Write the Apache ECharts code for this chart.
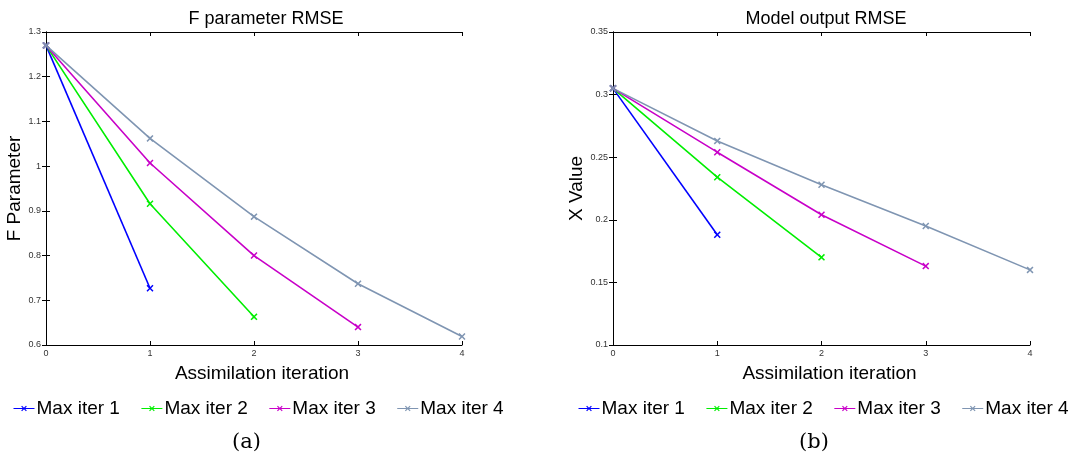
<!DOCTYPE html>
<html>
<head>
<meta charset="utf-8">
<script src="https://cdn.jsdelivr.net/npm/echarts@6/dist/echarts.min.js"></script>
<style>
  html, body { margin: 0; padding: 0; background: #fff; }
  #chart { width: 1074px; height: 463px; }
</style>
</head>
<body>
<div id="chart"></div>
<script>
// values
var iterations = [0, 1, 2, 3, 4];
var seriesNames = ['Max iter 1', 'Max iter 2', 'Max iter 3', 'Max iter 4'];
var colors = ['#0000ff', '#00ee00', '#c800c8', '#7f95b2'];

// (a) F parameter RMSE
var fIter1 = [1.27, 0.727];
var fIter2 = [1.27, 0.916, 0.663];
var fIter3 = [1.27, 1.007, 0.800, 0.640];
var fIter4 = [1.27, 1.062, 0.887, 0.737, 0.619];

// (b) model output RMSE
var xIter1 = [0.305, 0.188];
var xIter2 = [0.305, 0.234, 0.170];
var xIter3 = [0.305, 0.254, 0.204, 0.163];
var xIter4 = [0.305, 0.263, 0.228, 0.195, 0.160];

var fData = [fIter1, fIter2, fIter3, fIter4];
var xData = [xIter1, xIter2, xIter3, xIter4];

var cross = 'path://M0,1.5L1.5,0L5,3.5L8.5,0L10,1.5L6.5,5L10,8.5L8.5,10L5,6.5L1.5,10L0,8.5L3.5,5Z';

function pairs(vals) {
  var out = [];
  for (var i = 0; i < vals.length; i++) out.push([iterations[i], vals[i]]);
  return out;
}

var tickLabel = { fontSize: 9, color: '#333', fontFamily: 'Liberation Sans' };
var nameFont = { fontSize: 19, color: '#000', fontFamily: 'Liberation Sans' };

function xAxes(idx) {
  return [
    {
      type: 'value', gridIndex: idx, min: 0, max: 4, interval: 1,
      name: 'Assimilation iteration', nameLocation: 'middle', nameGap: 19,
      nameTextStyle: Object.assign({ padding: [0, 0, 0, 16] }, nameFont),
      axisLine: { show: true, lineStyle: { color: '#000', width: 1 } },
      axisTick: { inside: true, length: 4, lineStyle: { color: '#000' } },
      axisLabel: Object.assign({ margin: 4 }, tickLabel),
      splitLine: { show: false }
    },
    {
      type: 'value', gridIndex: idx, position: 'top', min: 0, max: 4, interval: 1,
      axisLine: { show: true, lineStyle: { color: '#000', width: 1 } },
      axisTick: { inside: true, length: 4, lineStyle: { color: '#000' } },
      axisLabel: { show: false }, splitLine: { show: false }
    }
  ];
}

function yAxes(idx, min, max, step, name, gap) {
  return [
    {
      type: 'value', gridIndex: idx, min: min, max: max, interval: step,
      name: name, nameLocation: 'middle', nameGap: gap,
      nameTextStyle: nameFont,
      axisLine: { show: true, lineStyle: { color: '#000', width: 1 } },
      axisTick: { inside: true, length: 4, lineStyle: { color: '#000' } },
      axisLabel: Object.assign({ margin: 5 }, tickLabel),
      splitLine: { show: false }
    },
    {
      type: 'value', gridIndex: idx, position: 'right', min: min, max: max, interval: step,
      axisLine: { show: true, lineStyle: { color: '#000', width: 1 } },
      axisTick: { inside: true, length: 4, lineStyle: { color: '#000' } },
      axisLabel: { show: false }, splitLine: { show: false }
    }
  ];
}

var series = [];
function addSeries(data, axisBase) {
  for (var i = 0; i < data.length; i++) {
    series.push({
      name: seriesNames[i],
      type: 'line',
      xAxisIndex: axisBase,
      yAxisIndex: axisBase,
      data: pairs(data[i]),
      symbol: cross,
      symbolSize: 7,
      showSymbol: true,
      lineStyle: { color: colors[i], width: 1.6 },
      itemStyle: { color: colors[i] },
      animation: false
    });
  }
}
addSeries(fData, 0);
addSeries(xData, 2);

var legendBase = {
  orient: 'horizontal',
  padding: 0,
  itemWidth: 21, itemHeight: 7, itemGap: 21,
  lineStyle: { width: 1 },
  textStyle: { fontSize: 19, color: '#000', fontFamily: 'Liberation Sans', padding: [0, 0, 0, -3] },
  data: seriesNames,
  top: 399
};

var myChart = echarts.init(document.getElementById('chart'));
myChart.setOption({
  backgroundColor: '#fff',
  color: colors,
  animation: false,
  title: [
    { text: 'F parameter RMSE', left: 261, top: 5, textAlign: 'center',
      textStyle: { fontSize: 18, fontWeight: 'normal', color: '#000', fontFamily: 'Liberation Sans' } },
    { text: 'Model output RMSE', left: 821, top: 5, textAlign: 'center',
      textStyle: { fontSize: 18, fontWeight: 'normal', color: '#000', fontFamily: 'Liberation Sans' } }
  ],
  grid: [
    { left: 46, top: 32, width: 416, height: 313 },
    { left: 613, top: 32, width: 417, height: 313 }
  ],
  xAxis: xAxes(0).concat(xAxes(1)),
  yAxis: yAxes(0, 0.6, 1.3, 0.1, 'F Parameter', 18).concat(yAxes(1, 0.1, 0.35, 0.05, 'X Value', 24)),
  legend: [
    Object.assign({}, legendBase, { left: 13 }),
    Object.assign({}, legendBase, { left: 578 })
  ],
  graphic: [
    { type: 'text', left: 232, top: 432,
      style: { text: '(a)', fontSize: 21, fill: '#000', fontFamily: 'DejaVu Serif' } },
    { type: 'text', left: 799, top: 432,
      style: { text: '(b)', fontSize: 21, fill: '#000', fontFamily: 'DejaVu Serif' } }
  ],
  series: series
});

window.onresize = function() {
  myChart.resize()
}
</script>
</body>
</html>
